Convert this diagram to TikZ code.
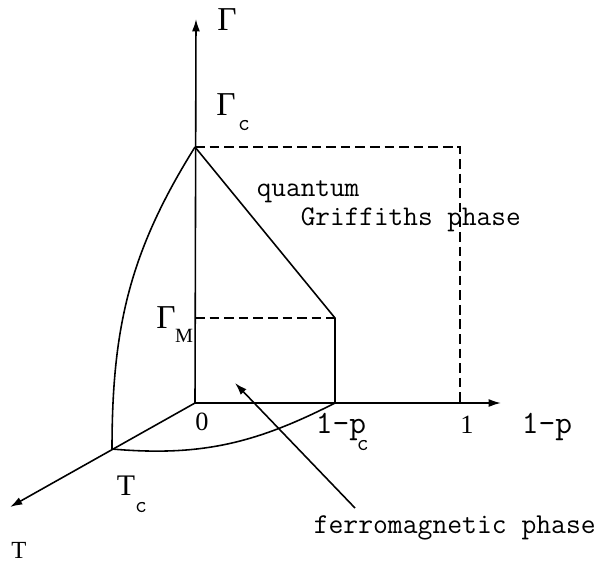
\documentclass[tikz,border=0pt]{standalone}
\usepackage{fontspec}
\setmainfont{Liberation Serif}
\usetikzlibrary{arrows.meta}
\newcommand\fsz[1]{\fontsize{#1}{#1}\selectfont}

\begin{document}
\begin{tikzpicture}[x=0.02cm,y=0.02cm,>={Latex[length=7pt,width=4.5pt]},line width=0.9pt,
 lbl/.style={inner sep=0pt,anchor=base},
 dsh/.style={dash pattern=on 5.5pt off 2.8pt}]
\useasboundingbox (0,0) rectangle (608,-562);
% axes
\coordinate (o) at (195,-403); \coordinate (gtop) at (196,-19);
\coordinate (ptop) at (501,-403); \coordinate (ttop) at (10,-507);
\draw[->] (o) -- (gtop); \draw[->] (o) -- (ptop); \draw[->] (o) -- (ttop);
% phase boundaries
\coordinate (gc) at (195,-147); \coordinate (gm) at (195,-318);
\coordinate (pm) at (335,-318); \coordinate (pc) at (335,-403);
\coordinate (onetop) at (460,-147); \coordinate (one) at (460,-403);
\coordinate (tc) at (112,-449);
\draw[dsh] (gc) -- (onetop) -- (one);
\draw[dsh] (gm) -- (pm);
\draw (gc) -- (pm) -- (pc);
\draw (gc) to[out=238,in=90] (tc) to[out=-5,in=207] (pc);
% labels
\node[lbl] (lgam) at (227,-30) {\fsz{19}Γ};
\node[lbl] (lgc) at (226,-115) {\fsz{19}Γ};
\node[lbl] (lgcsub) at (244,-130) {\fsz{13}\ttfamily c};
\node[lbl] (lgm) at (166,-328) {\fsz{19}Γ};
\node[lbl] (lgmsub) at (184,-342) {\fsz{11.5}M};
\node[lbl] (lzero) at (202,-430) {\fsz{15}0};
\node[lbl,anchor=base west] (lpc) at (315,-433) {\fsz{18.5}\ttfamily 1-p};
\node[lbl,anchor=base west] (lpcsub) at (356,-450) {\fsz{13}\ttfamily c};
\node[lbl] (lone) at (467,-433) {\fsz{15}1};
\node[lbl,anchor=base west] (lp) at (521,-433) {\fsz{18.5}\ttfamily 1-p};
\node[lbl] (ltc) at (126,-495) {\fsz{17}T};
\node[lbl] (ltcsub) at (141,-512) {\fsz{13}\ttfamily c};
\node[lbl] (lt) at (19,-558) {\fsz{14}T};
\node[lbl,anchor=base west] (qu) at (256,-196) {\fsz{16.2}\ttfamily quantum};
\node[lbl,anchor=base west] (gr) at (300,-225) {\fsz{16.2}\ttfamily Griffiths phase};
\node[lbl,anchor=base west] (fm) at (313,-533) {\fsz{16.4}\ttfamily ferromagnetic phase};
\coordinate (fmtail) at (355,-508); \coordinate (fmhead) at (235,-383);
\draw[->] (fmtail) -- (fmhead);
\end{tikzpicture}
\end{document}
